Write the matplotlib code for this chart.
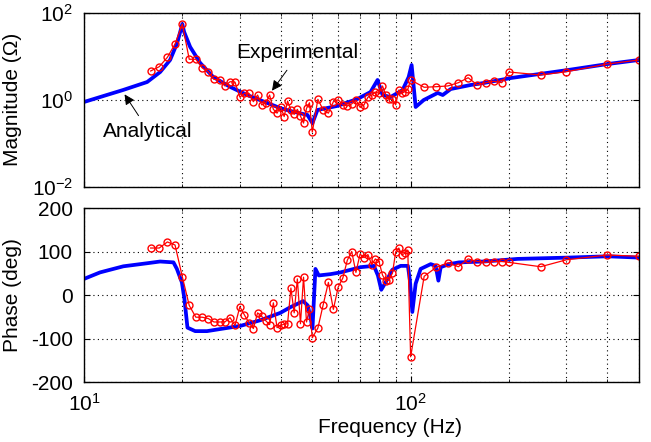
import numpy as np
import matplotlib
matplotlib.use('Agg')
import matplotlib.pyplot as plt
from matplotlib.ticker import LogLocator, NullFormatter

plt.rcParams['font.family'] = ['Liberation Sans', 'DejaVu Sans']
plt.rcParams['mathtext.fontset'] = 'custom'
plt.rcParams['mathtext.rm'] = 'Liberation Sans'
plt.rcParams['axes.unicode_minus'] = False

# Analytical model
f_ana_mag = [10.0, 11.2, 13.17, 15.61, 17.11, 18.35, 19.29, 19.70, 20.0, 20.26, 21.14,
             22.69, 24.87, 28.05, 31.62, 36.42, 39.92, 42.84, 48.31, 50.06, 51.84,
             59.7, 68.75, 75.38, 79.2, 82.07, 86.8, 94.5, 98.6, 100.7, 103.6, 109.6,
             121.0, 125.4, 132.7, 152.8, 167.5, 202.7, 303.0, 402.0, 500.0]
mag_ana = [0.885, 1.15, 1.67, 2.55, 4.33, 8.18, 20.1, 36.0, 55.0, 36.0, 16.3,
           6.98, 3.32, 1.96, 1.28, 0.84, 0.64, 0.55, 0.445, 0.29, 0.58,
           0.72, 1.04, 1.50, 2.84, 1.28, 1.15, 1.67, 3.32, 6.28, 0.68, 0.98,
           1.43, 1.28, 1.76, 2.18, 2.42, 3.15, 4.81, 6.62, 8.18]

f_ana_ph = [10.0, 11.2, 13.2, 15.6, 17.1, 18.79, 19.25, 19.94, 20.3, 20.74, 21.9,
            23.8, 26.75, 30.1, 34.66, 39.92, 42.84, 46.88, 48.42, 49.36, 50.06,
            51.12, 52.34, 56.84, 61.0, 70.3, 77.2, 79.4, 81.3, 83.8, 87.9, 93.2,
            98.1, 99.5, 101.2, 103.6, 107.3, 115.2, 119.3, 121.6, 123.6, 131.1,
            140.7, 167.8, 212.5, 303.0, 401.0, 500.0]
ph_ana = [37, 52, 66, 73, 77, 75, 60, 29, -9, -75, -83,
          -83, -77, -71, -58, -41, -28, -14, -24, -51, -77,
          60, 45, 48, 52, 64, 67, 45, 12, 29, 58, 67,
          67, 33, -39, 26, 60, 71, 67, 33, 64, 71,
          75, 77, 83, 86, 89, 86]

# Experimental measurements
f_exp = [16, 17, 18, 19, 20, 21, 22, 23, 24, 25, 26, 27, 28, 29, 30, 31, 32, 33,
         34, 35, 36, 37, 38, 39, 40, 41, 42, 43, 44, 45, 46, 47, 48, 49, 50,
         52, 54, 56, 58, 60, 62, 64, 66, 68, 70, 72, 74, 76, 78, 80, 82, 84,
         86, 88, 90, 92, 94, 96, 98, 100,
         110, 120, 130, 140, 150, 160, 170, 180, 190, 200, 250, 300, 400, 500]
mag_exp = [4.57, 5.74, 9.4, 19.1, 55.0, 8.5, 8.5, 5.4, 4.4, 2.94, 2.88, 2.07, 2.59,
           2.53, 1.15, 1.40, 1.40, 0.90, 1.28, 0.76, 0.83, 1.28, 0.60, 0.49, 0.69,
           0.41, 0.93, 0.58, 0.46, 0.60, 0.42, 0.29, 0.63, 0.85, 0.18,
           1.02, 0.58, 0.49, 0.90, 1.0, 0.76, 0.72, 0.80, 0.98, 0.67, 0.76, 1.14,
           1.28, 1.5, 1.40, 2.07, 1.28, 1.02, 1.02, 0.76, 1.67, 1.40, 1.53, 1.73,
           2.84, 1.93, 1.99, 2.07, 2.46, 3.2, 2.18, 2.46, 2.65, 2.46, 4.33, 3.7,
           4.4, 6.6, 8.2]
ph_exp = [108, 108, 122, 115, 42, -24, -51, -51, -54, -62, -62, -62, -52, -70,
          -27, -46, -64, -77, -41, -49, -59, -68, -18, -75, -70, -67, -66, 16,
          -41, 37, -66, 41, -62, -32, -98,
          -76, -22, 29, -33, 18, 39, 80, 100, 52, 94, 86, 93, 70, 83, 77, 46, 32,
          35, 51, 99, 108, 92, 96, 103, -142,
          43, 64, 74, 65, 83, 77, 75, 77, 77, 75, 65, 81, 92, 89]

FS = 15

fig = plt.figure(figsize=(6.51, 4.42), dpi=100)
ax1 = fig.add_axes([0.129, 0.5776, 0.8525, 0.3937])
ax2 = fig.add_axes([0.129, 0.1357, 0.8525, 0.3937])

grid_kw = dict(color='k', linestyle=(0, (1, 3)), linewidth=0.8)

for ax in (ax1, ax2):
    ax.set_xscale('log')
    ax.set_xlim(10, 500)
    ax.xaxis.set_minor_locator(LogLocator(base=10, subs=np.arange(2, 10)))
    ax.xaxis.set_minor_formatter(NullFormatter())
    ax.grid(True, which='both', axis='x', **grid_kw)
    ax.grid(True, which='major', axis='y', **grid_kw)
    ax.tick_params(which='both', direction='in', top=True, right=True,
                   labelsize=FS, length=4, pad=8)
    ax.tick_params(which='minor', length=2.5)
    for s in ax.spines.values():
        s.set_linewidth(1.0)

# magnitude
ax1.plot(f_ana_mag, mag_ana, color='#0000ff', lw=2.7)
ax1.plot(f_exp, mag_exp, color='#ff0000', lw=0.9, marker='o', ms=5,
         mfc='none', mec='#ff0000', mew=1.0)
ax1.set_yscale('log')
ax1.set_ylim(1e-2, 1e2)
ax1.set_yticks([1e-2, 1e0, 1e2])
ax1.yaxis.set_minor_locator(matplotlib.ticker.NullLocator())
ax1.set_xticklabels([])
ax1.set_ylabel('Magnitude (\u03a9)', fontsize=FS)
ax1.yaxis.set_label_coords(-0.112, 0.5)

ax1.text(29.3, 11.9, 'Experimental', fontsize=FS, va='center', ha='left')
ax1.annotate('', xy=(37.2, 1.43), xytext=(42.3, 5.35),
             arrowprops=dict(arrowstyle='-|>', color='k', lw=0.7, mutation_scale=15))
ax1.text(11.4, 0.181, 'Analytical', fontsize=FS, va='center', ha='left')
ax1.annotate('', xy=(13.17, 1.5), xytext=(14.85, 0.38),
             arrowprops=dict(arrowstyle='-|>', color='k', lw=0.7, mutation_scale=15))

# phase
ax2.plot(f_ana_ph, ph_ana, color='#0000ff', lw=2.7)
ax2.plot(f_exp, ph_exp, color='#ff0000', lw=0.9, marker='o', ms=5,
         mfc='none', mec='#ff0000', mew=1.0)
ax2.set_ylim(-200, 200)
ax2.set_yticks([-200, -100, 0, 100, 200])
ax2.set_ylabel('Phase (deg)', fontsize=FS)
ax2.yaxis.set_label_coords(-0.112, 0.5)
ax2.set_xlabel('Frequency (Hz)', fontsize=FS)
ax2.xaxis.set_label_coords(0.551, -0.205)

fig.savefig('out.png', dpi=100)
